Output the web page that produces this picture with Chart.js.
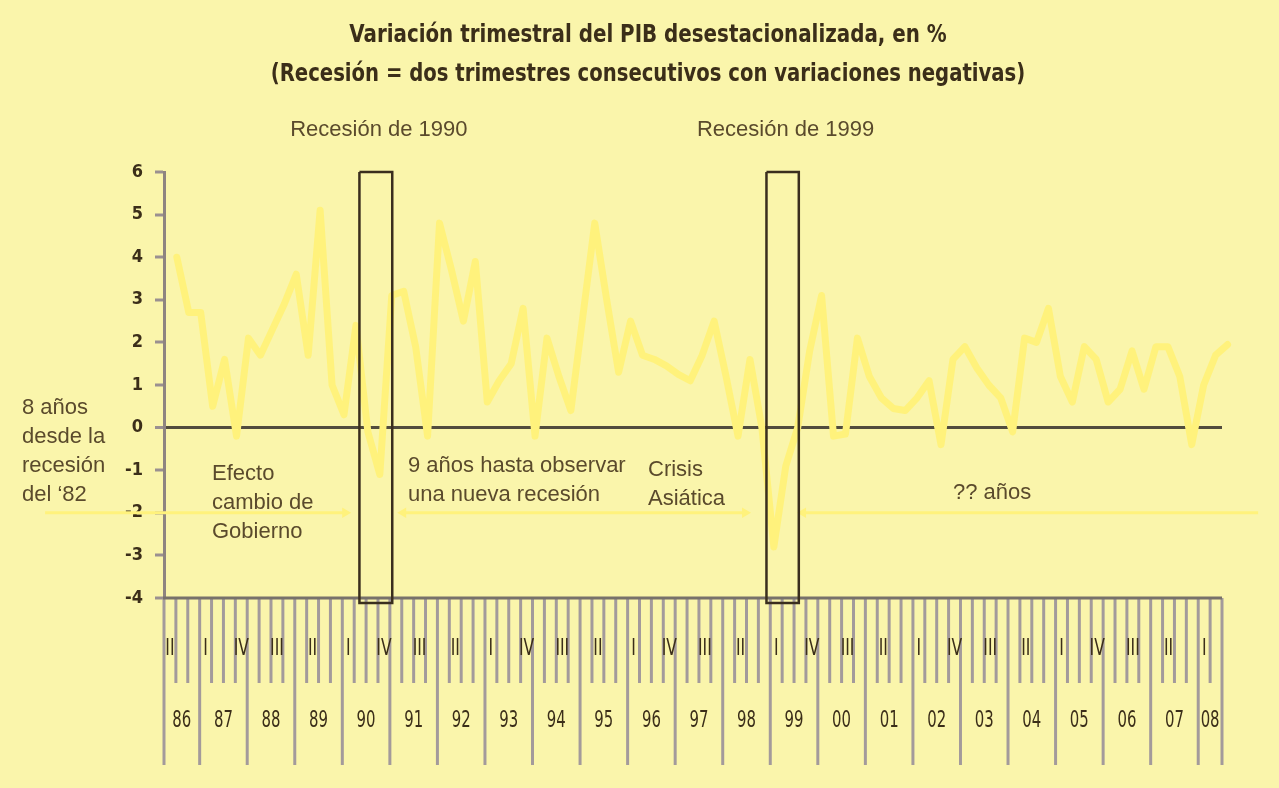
<!DOCTYPE html>
<html>
<head>
<meta charset="utf-8">
<script src="https://cdn.jsdelivr.net/npm/chart.js@4.4.0/dist/chart.umd.min.js"></script>
<style>
    body { margin: 0; background: #faf5ab; }
    canvas { display: block; }
</style>
</head>
<body>
<canvas id="pibChart" width="1279" height="788"></canvas>
<script>
// Quarter axis: runs from 1986 II to 2008 II
const axisStart = 1986.25;
const axisEnd = 2008.5;
const yearLabels = ['86', '87', '88', '89', '90', '91', '92', '93', '94', '95', '96',
    '97', '98', '99', '00', '01', '02', '03', '04', '05', '06', '07', '08'];
const romanLabels = ['I', 'II', 'III', 'IV'];

// Quarterly GDP change (seasonally adjusted), %
const pibVariation = [
    4.0, 2.7, 2.7, 0.5, 1.6, -0.2, 2.1, 1.7, 2.3, 2.9,
    3.6, 1.7, 5.1, 1.0, 0.3, 2.4, -0.1, -1.1, 3.1, 3.2,
    1.9, -0.2, 4.8, 3.7, 2.5, 3.9, 0.6, 1.1, 1.5, 2.8,
    -0.2, 2.1, 1.2, 0.4, 2.6, 4.8, 3.0, 1.3, 2.5, 1.7,
    1.6, 1.45, 1.25, 1.1, 1.7, 2.5, 1.2, -0.2, 1.6, 0.0,
    -2.8, -0.9, 0.0, 1.8, 3.1, -0.2, -0.15, 2.1, 1.2, 0.7,
    0.45, 0.4, 0.7, 1.1, -0.4, 1.6, 1.9, 1.4, 1.0, 0.7,
    -0.1, 2.1, 2.0, 2.8, 1.2, 0.6, 1.9, 1.6, 0.6, 0.9,
    1.8, 0.9, 1.9, 1.9, 1.2, -0.4, 1.0, 1.7, 1.95
];
// the printed line sits a bit right of the quarter grid
const lineStart = 1986.52;
const lineStep = 0.2511;

// Recession boxes (in years)
const recessionLabels = ['Recesión de 1990', 'Recesión de 1999'];
const recessionStart = [1990.36, 1998.92];
const recessionEnd = [1991.05, 1999.6];

// Period arrows, drawn at -2
const arrowFrom = [1983.75, 1991.28, 1999.69];
const arrowTo = [1990.06, 1998.47, 2009.26];
const arrowLevel = -2;

const NARROW = '"DejaVu Sans Condensed", "Liberation Sans Narrow", sans-serif';
const REGULAR = '"Liberation Sans", Arial, sans-serif';
const INK = '#3b2e19';
const TEXT = '#5a4a2c';
const YELLOW = '#fff27c';

const recessionSets = recessionStart.map((s, i) => ({
    data: [
        { x: s, y: 6 }, { x: recessionEnd[i], y: 6 },
        { x: recessionEnd[i], y: -4.12 }, { x: s, y: -4.12 }, { x: s, y: 6 }
    ],
    borderColor: '#3a2e1e',
    borderWidth: 2.5,
    borderJoinStyle: 'miter',
    pointRadius: 0,
    clip: false,
    order: 0
}));

const arrowSets = arrowFrom.map((a, i) => ({
    data: [{ x: a, y: arrowLevel }, { x: arrowTo[i], y: arrowLevel }],
    borderColor: YELLOW,
    borderWidth: 3,
    pointStyle: i === 0 ? ['circle', 'triangle'] : ['triangle', 'triangle'],
    pointRotation: i === 0 ? [0, 90] : [-90, 90],
    pointRadius: i === 0 ? [3, 6] : [6, 6],
    pointBackgroundColor: YELLOW,
    pointBorderWidth: 0,
    clip: false,
    order: 2
}));

const pibSet = {
    data: pibVariation.map((v, i) => ({ x: lineStart + i * lineStep, y: v })),
    borderColor: YELLOW,
    borderWidth: 7,
    borderJoinStyle: 'round',
    borderCapStyle: 'round',
    pointRadius: 0,
    tension: 0,
    clip: false,
    order: 1
};

// condensed lettering: squeeze text horizontally around its anchor
function squeezedText(ctx, text, x, y, sx) {
    ctx.save();
    ctx.translate(x, y);
    ctx.scale(sx, 1);
    ctx.fillText(text, 0, 0);
    ctx.restore();
}

// Quarter / year axis under the plot, drawn from the x scale
const quarterAxis = {
    id: 'quarterAxis',
    beforeDatasetsDraw(chart) {
        const { ctx, chartArea } = chart;
        const x = chart.scales.x;
        const base = chartArea.bottom;
        const nQuarters = Math.round((axisEnd - axisStart) * 4);
        ctx.save();
        ctx.lineWidth = 3;
        ctx.strokeStyle = '#a39a9b';
        for (let q = 0; q <= nQuarters; q++) {
            const v = axisStart + q * 0.25;
            const px = x.getPixelForValue(v);
            const isYear = Number.isInteger(v) || q === 0 || q === nQuarters;
            ctx.beginPath();
            ctx.moveTo(px, base);
            ctx.lineTo(px, base + (isYear ? 167 : 85));
            ctx.stroke();
        }
        ctx.strokeStyle = '#77716a';
        ctx.beginPath();
        ctx.moveTo(chartArea.left - 1, base);
        ctx.lineTo(chartArea.right, base);
        ctx.stroke();

        ctx.fillStyle = INK;
        ctx.textAlign = 'center';
        ctx.textBaseline = 'middle';
        ctx.font = '23px ' + NARROW;
        const firstQ = Math.round((axisStart % 1) * 4); // 1 -> II
        for (let q = 0; q < nQuarters; q += 3) {
            const px = x.getPixelForValue(axisStart + (q + 0.5) * 0.25);
            squeezedText(ctx, romanLabels[(firstQ + q) % 4], px, base + 51, 0.75);
        }
        yearLabels.forEach((lab, i) => {
            const y0 = Math.max(1986 + i, axisStart);
            const y1 = Math.min(1987 + i, axisEnd);
            squeezedText(ctx, lab, x.getPixelForValue((y0 + y1) / 2), base + 123, 0.72);
        });
        ctx.restore();
    }
};

// Titles and notes
const notes = {
    id: 'notes',
    afterDraw(chart) {
        const { ctx } = chart;
        const x = chart.scales.x;
        ctx.save();
        ctx.fillStyle = INK;
        ctx.textAlign = 'center';
        ctx.textBaseline = 'middle';
        ctx.font = 'bold 24px ' + NARROW;
        squeezedText(ctx, 'Variación trimestral del PIB desestacionalizada, en %', 648, 36, 0.92);
        squeezedText(ctx, '(Recesión = dos trimestres consecutivos con variaciones negativas)', 648, 75, 0.91);

        ctx.fillStyle = TEXT;
        ctx.font = '22px ' + REGULAR;
        recessionLabels.forEach((lab, i) => {
            const cx = x.getPixelForValue((recessionStart[i] + recessionEnd[i]) / 2);
            ctx.fillText(lab, cx + 3, 130);
        });

        ctx.textAlign = 'left';
        const blocks = [
            { x: 22, y: 408, lines: ['8 años', 'desde la', 'recesión', 'del ‘82'] },
            { x: 212, y: 474, lines: ['Efecto', 'cambio de', 'Gobierno'] },
            { x: 408, y: 466, lines: ['9 años hasta observar', 'una nueva recesión'] },
            { x: 648, y: 470, lines: ['Crisis', 'Asiática'] },
            { x: 953, y: 493, lines: ['?? años'] }
        ];
        blocks.forEach(b => b.lines.forEach((t, k) => ctx.fillText(t, b.x, b.y + k * 29)));
        ctx.restore();
    }
};

const config = {
    type: 'line',
    data: { datasets: [pibSet, ...recessionSets, ...arrowSets] },
    options: {
        responsive: false,
        devicePixelRatio: 1,
        animation: false,
        layout: { padding: { left: 0, right: 57, top: 172, bottom: 190 } },
        plugins: { legend: { display: false }, tooltip: { enabled: false } },
        scales: {
            x: { type: 'linear', min: axisStart, max: axisEnd, display: false },
            y: {
                min: -4,
                max: 6,
                ticks: {
                    stepSize: 1,
                    color: INK,
                    padding: 12,
                    font: { family: NARROW, size: 18, weight: 'bold' }
                },
                grid: {
                    drawOnChartArea: true,
                    color: c => (c.tick && c.tick.value === 0 ? '#514c3e' : 'rgba(0,0,0,0)'),
                    lineWidth: c => (c.tick && c.tick.value === 0 ? 3 : 0),
                    tickLength: 9,
                    tickColor: '#9a9090',
                    tickWidth: 3
                },
                border: { color: '#8e8480', width: 3 },
                afterFit(scale) { scale.width = 164; }
            }
        }
    },
    plugins: [quarterAxis, notes]
};

new Chart(document.getElementById('pibChart').getContext('2d'), config);
</script>
</body>
</html>
